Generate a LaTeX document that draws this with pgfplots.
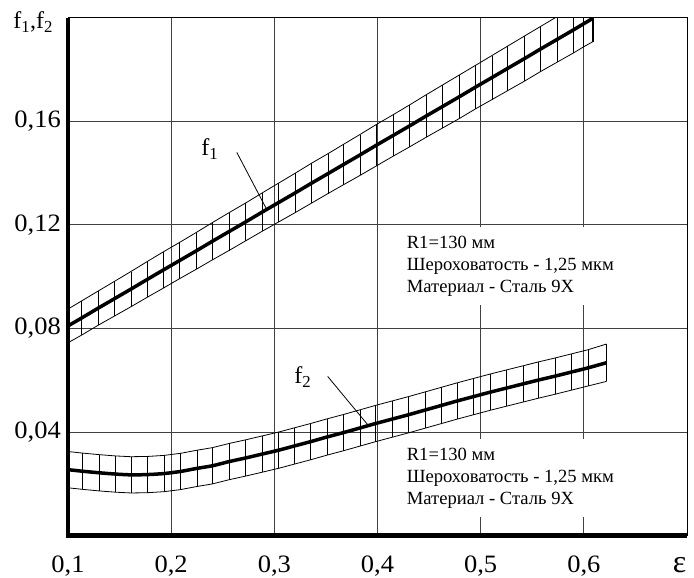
\documentclass[border=0pt]{standalone}
\usepackage{fontspec}
\setmainfont{Liberation Serif}
\newfontfamily\tickfont{Liberation Serif}[FakeStretch=1.06]
\usepackage{pgfplots}
\usepackage{pgfplotstable}
\pgfplotsset{compat=1.18}

\pgfplotstableread{
x y e
0.100 0.0810 0.0065
0.113 0.0840 0.0066
0.129 0.0878 0.0066
0.145 0.0915 0.0067
0.161 0.0952 0.0068
0.177 0.0990 0.0069
0.192 0.1025 0.0070
0.208 0.1062 0.0070
0.224 0.1099 0.0071
0.240 0.1137 0.0072
0.256 0.1174 0.0073
0.272 0.1211 0.0073
0.288 0.1249 0.0074
0.304 0.1286 0.0075
0.320 0.1323 0.0076
0.336 0.1361 0.0077
0.352 0.1398 0.0077
0.367 0.1433 0.0078
0.383 0.1470 0.0079
0.399 0.1508 0.0080
0.415 0.1545 0.0080
0.431 0.1582 0.0081
0.447 0.1620 0.0082
0.463 0.1657 0.0083
0.479 0.1694 0.0084
0.495 0.1732 0.0084
0.511 0.1769 0.0085
0.526 0.1804 0.0086
0.542 0.1841 0.0087
0.558 0.1879 0.0087
0.574 0.1916 0.0088
0.590 0.1953 0.0089
0.600 0.1977 0.0089
0.609 0.1998 0.0090
}\fone

\pgfplotstableread{
x y e
0.100 0.0255 0.0070
0.114 0.0249 0.0070
0.130 0.0243 0.0070
0.146 0.0238 0.0070
0.161 0.0235 0.0070
0.177 0.0236 0.0070
0.193 0.0240 0.0070
0.209 0.0248 0.0070
0.225 0.0260 0.0070
0.240 0.0270 0.0070
0.256 0.0286 0.0070
0.272 0.0300 0.0070
0.288 0.0315 0.0070
0.304 0.0330 0.0070
0.319 0.0346 0.0070
0.335 0.0363 0.0070
0.351 0.0381 0.0070
0.367 0.0398 0.0070
0.383 0.0416 0.0070
0.398 0.0433 0.0070
0.414 0.0450 0.0070
0.430 0.0467 0.0070
0.446 0.0485 0.0070
0.462 0.0503 0.0070
0.477 0.0520 0.0070
0.493 0.0537 0.0070
0.509 0.0554 0.0070
0.525 0.0570 0.0070
0.541 0.0586 0.0070
0.556 0.0601 0.0070
0.572 0.0616 0.0070
0.588 0.0632 0.0070
0.604 0.0648 0.0070
0.622 0.0668 0.0072
}\ftwo

\begin{document}
\begin{tikzpicture}
\begin{axis}[name=ax,
  width=619pt, height=518pt, scale only axis,
  xmin=0.1, xmax=0.7, ymin=0, ymax=0.2,
  xtick={0.1,0.2,0.3,0.4,0.5,0.6,0.7},
  xticklabels={{0,1},{0,2},{0,3},{0,4},{0,5},{0,6},{}},
  ytick={0.04,0.08,0.12,0.16,0.2},
  yticklabels={{0,04},{0,08},{0,12},{0,16},{}},
  grid=major,
  major grid style={line width=0.8pt, black!75},
  major tick length=0pt,
  axis line style={line width=0.9pt, black},
  tick label style={font=\tickfont\fontsize{25}{27}\selectfont},
  xticklabel style={anchor=base, yshift=-37pt},
  yticklabel style={anchor=east, inner xsep=7pt},
  /pgf/number format/assume math mode=true,
]
% f1 band
\addplot[draw=none, forget plot, error bars/.cd, y dir=both, y explicit, error mark=none,
  error bar style={draw=black, line width=0.8pt}] table[x=x, y=y, y error=e] {\fone};
\addplot[black, line width=0.8pt] table[x=x, y expr=\thisrow{y}+\thisrow{e}] {\fone};
\addplot[black, line width=0.8pt] table[x=x, y expr=\thisrow{y}-\thisrow{e}] {\fone};
\addplot[black, line width=3.5pt] table[x=x, y=y] {\fone};
\addplot[black, line width=2.5pt] coordinates {(0.609,0.1908) (0.609,0.2)};
% f2 band
\addplot[draw=none, forget plot, error bars/.cd, y dir=both, y explicit, error mark=none,
  error bar style={draw=black, line width=0.8pt}] table[x=x, y=y, y error=e] {\ftwo};
\addplot[black, line width=0.8pt] table[x=x, y expr=\thisrow{y}+\thisrow{e}] {\ftwo};
\addplot[black, line width=0.8pt] table[x=x, y expr=\thisrow{y}-\thisrow{e}] {\ftwo};
\addplot[black, line width=3.5pt, smooth] table[x=x, y=y] {\ftwo};
% leaders
\addplot[black, line width=0.8pt] coordinates {(0.2636,0.148) (0.2926,0.126)};
\addplot[black, line width=0.8pt] coordinates {(0.3517,0.0615) (0.3904,0.0429)};
\node[font=\fontsize{24}{26}\selectfont, inner sep=0] at (axis cs:0.2375,0.1492) {f\textsubscript{1}};
\node[font=\fontsize{24}{26}\selectfont, inner sep=0] at (axis cs:0.3275,0.0613) {f\textsubscript{2}};
\node[anchor=base west, fill=white, inner xsep=6pt, inner ysep=6pt, font=\fontsize{18.6}{22}\selectfont]
  at (axis cs:0.4224,0.1108) {\begin{tabular}[t]{@{}l@{}}R1=130 мм\\Шероховатость - 1,25 мкм\\Материал - Сталь 9Х\end{tabular}};
\node[anchor=base west, fill=white, inner xsep=6pt, inner ysep=6pt, font=\fontsize{18.6}{22}\selectfont]
  at (axis cs:0.4224,0.0291) {\begin{tabular}[t]{@{}l@{}}R1=130 мм\\Шероховатость - 1,25 мкм\\Материал - Сталь 9Х\end{tabular}};
\end{axis}
\draw[line width=4.5pt] (ax.north west) -- (ax.south west) -- (ax.south east);
\node[anchor=base east, inner sep=0, font=\fontsize{24}{26}\selectfont] at ([xshift=-14.7pt,yshift=-10.6pt]ax.north west) {f\textsubscript{1},f\textsubscript{2}};
\node[anchor=base, inner sep=0, font=\fontsize{32}{34}\selectfont] at ([xshift=-7.5pt,yshift=-36.5pt]ax.south east) {ε};
\pgfresetboundingbox
\path ([xshift=-68pt,yshift=-42pt]ax.south west) rectangle ([xshift=7pt,yshift=17.7pt]ax.north east);
\end{tikzpicture}
\end{document}
